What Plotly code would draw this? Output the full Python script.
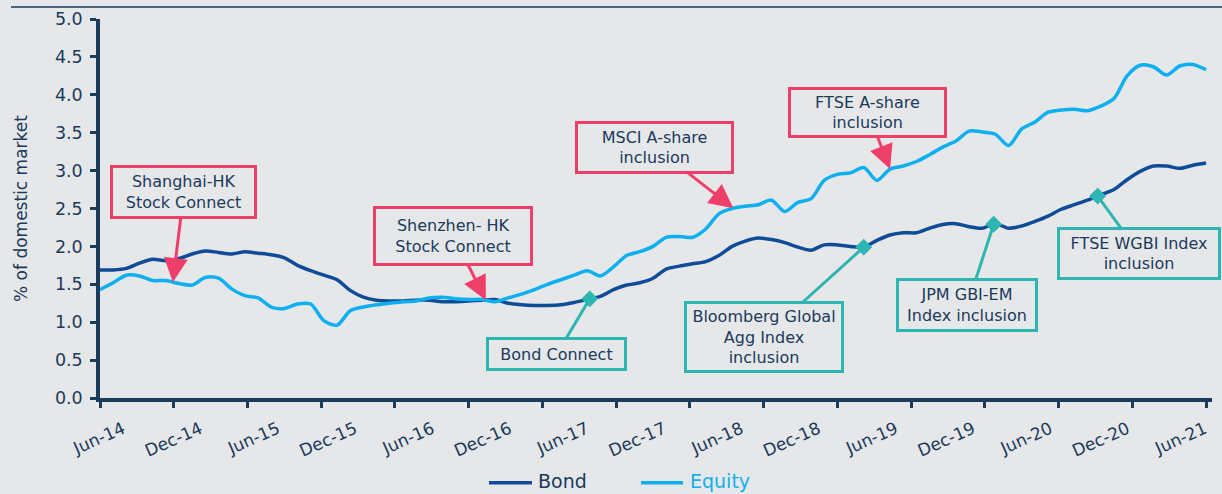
import numpy as np
import pandas as pd
import plotly.graph_objects as go

# ---------------- data ----------------
dates = pd.date_range("2014-06-01", "2021-06-01", freq="MS")

bond = [1.69, 1.69, 1.71, 1.78, 1.83, 1.81, 1.84, 1.90, 1.94, 1.92,
        1.90, 1.93, 1.91, 1.89, 1.85, 1.75, 1.68, 1.62, 1.56, 1.42,
        1.33, 1.29, 1.28, 1.28, 1.29, 1.29, 1.27, 1.27, 1.28, 1.29,
        1.30, 1.25, 1.23, 1.22, 1.22, 1.23, 1.26, 1.30, 1.34, 1.43,
        1.49, 1.52, 1.58, 1.70, 1.74, 1.77, 1.80, 1.88, 2.00, 2.07,
        2.11, 2.09, 2.05, 1.99, 1.95, 2.02, 2.02, 2.00, 1.99, 2.08,
        2.15, 2.18, 2.18, 2.24, 2.29, 2.30, 2.26, 2.24, 2.30, 2.24,
        2.27, 2.33, 2.40, 2.49, 2.55, 2.61, 2.68, 2.75, 2.88, 2.99,
        3.06, 3.06, 3.03, 3.07, 3.10]

equity = [1.43, 1.52, 1.62, 1.61, 1.55, 1.55, 1.51, 1.49, 1.59, 1.58,
          1.44, 1.35, 1.32, 1.20, 1.18, 1.24, 1.24, 1.02, 0.96, 1.15,
          1.20, 1.23, 1.25, 1.27, 1.28, 1.32, 1.33, 1.31, 1.30, 1.30,
          1.27, 1.32, 1.37, 1.43, 1.50, 1.56, 1.62, 1.68, 1.61, 1.73,
          1.88, 1.93, 2.00, 2.12, 2.13, 2.12, 2.23, 2.43, 2.50, 2.53,
          2.55, 2.61, 2.46, 2.58, 2.63, 2.87, 2.95, 2.97, 3.04, 2.87,
          3.02, 3.06, 3.12, 3.21, 3.31, 3.39, 3.52, 3.51, 3.48, 3.33,
          3.55, 3.64, 3.77, 3.80, 3.81, 3.79, 3.85, 3.95, 4.25, 4.39,
          4.37, 4.26, 4.38, 4.40, 4.33]

x_labels = ["Jun-14", "Dec-14", "Jun-15", "Dec-15", "Jun-16", "Dec-16", "Jun-17",
            "Dec-17", "Jun-18", "Dec-18", "Jun-19", "Dec-19", "Jun-20", "Dec-20", "Jun-21"]

y_ticks = [0.0, 0.5, 1.0, 1.5, 2.0, 2.5, 3.0, 3.5, 4.0, 4.5, 5.0]

series_names = ["Bond", "Equity"]

# events: text, date
equity_events = ["Shanghai-HK<br>Stock Connect", "Shenzhen- HK<br>Stock Connect",
                 "MSCI A-share<br>inclusion", "FTSE A-share<br>inclusion"]
equity_event_dates = ["2014-11-17", "2016-11-10", "2018-06-04", "2019-06-01"]

bond_events = ["Bond Connect", "Bloomberg Global<br>Agg Index<br>inclusion",
               "JPM GBI-EM<br>Index inclusion", "FTSE WGBI Index<br>inclusion"]
bond_event_dates = ["2017-07-07", "2019-04-01", "2020-01-28", "2020-09-24"]

# ---------------- styling / layout ----------------
BG = "#e6e7e9"
NAVY = "#1b3a5c"
BOND_C = "#0f4c98"
EQ_C = "#0db0ee"
PINK = "#ee3e6a"
TEAL = "#2db5b1"
FONT = "DejaVu Sans"


def to_month(d):
    d = pd.Timestamp(d)
    return (d.year - 2014) * 12 + d.month - 6 + (d.day - 1) / d.days_in_month


mo = np.array([to_month(d) for d in dates])

# label anchor positions along the axis (month units) and tick-mark positions
label_pos = list(np.linspace(1.75, 83.9, len(x_labels)))
tick_marks = list(np.linspace(0, 84, 16))

# callout box centres (data units) and inner sizes (px)
eq_boxes = [(6.37, 2.72, 137, 44), (26.84, 2.14, 150, 50),
            (42.14, 3.31, 149, 43), (58.32, 3.77, 149, 41)]
bd_boxes = [(34.70, 0.584, 131, 24), (50.46, 0.808, 150, 62),
            (65.88, 1.23, 132, 44), (78.94, 1.909, 154, 43)]

fig = go.Figure()
fig.add_trace(go.Scatter(x=mo, y=bond, mode="lines", name=series_names[0],
                         line=dict(color=BOND_C, width=3.5, shape="spline", smoothing=0.8)))
fig.add_trace(go.Scatter(x=mo, y=equity, mode="lines", name=series_names[1],
                         line=dict(color=EQ_C, width=3.5, shape="spline", smoothing=0.8)))

annotations = []
for txt, d, (bx, by, w, h) in zip(equity_events, equity_event_dates, eq_boxes):
    m = to_month(d)
    v = float(np.interp(m, mo, equity))
    annotations.append(dict(
        x=m, y=v, xref="x", yref="y", ax=bx, ay=by, axref="x", ayref="y",
        text=txt, showarrow=True, arrowhead=2, arrowsize=1.6, arrowwidth=3,
        arrowcolor=PINK, standoff=0, font=dict(family=FONT, size=16, color=NAVY),
        bordercolor=PINK, borderwidth=3, borderpad=2, bgcolor=BG,
        width=w, height=h, align="center"))

ev_x, ev_y = [], []
for txt, d, (bx, by, w, h) in zip(bond_events, bond_event_dates, bd_boxes):
    m = to_month(d)
    v = float(np.interp(m, mo, bond))
    ev_x.append(m)
    ev_y.append(v)
    annotations.append(dict(
        x=m, y=v, xref="x", yref="y", ax=bx, ay=by, axref="x", ayref="y",
        text=txt, showarrow=True, arrowhead=0, arrowwidth=3,
        arrowcolor=TEAL, standoff=0, font=dict(family=FONT, size=16, color=NAVY),
        bordercolor=TEAL, borderwidth=3, borderpad=2, bgcolor=BG,
        width=w, height=h, align="center"))

fig.add_trace(go.Scatter(x=ev_x, y=ev_y, mode="markers", showlegend=False,
                         marker=dict(symbol="diamond", size=13, color=TEAL)))

# legend drawn below the axis: sample line + label for each series
LEG_Y = -0.2235
legend_items = [(0.3498, 0.3885, 0.3925, BOND_C, NAVY),
                (0.4865, 0.5243, 0.5292, EQ_C, EQ_C)]
shapes = [dict(type="line", xref="paper", yref="paper", x0=-0.08, x1=1.01,
               y0=1.0317, y1=1.0317, line=dict(color=NAVY, width=1.5))]
for name, (x0, x1, xt, lc, tc) in zip(series_names, legend_items):
    shapes.append(dict(type="line", xref="paper", yref="paper", x0=x0, x1=x1,
                       y0=LEG_Y, y1=LEG_Y, line=dict(color=lc, width=3.5)))
    annotations.append(dict(x=xt, y=LEG_Y + 0.004, xref="paper", yref="paper",
                            xanchor="left", yanchor="middle", showarrow=False,
                            text=name, font=dict(family=FONT, size=19, color=tc)))

fig.update_layout(
    width=1222, height=494,
    margin=dict(l=100, r=10, t=19, b=96),
    paper_bgcolor=BG, plot_bgcolor=BG,
    font=dict(family=FONT, color=NAVY),
    showlegend=False,
    annotations=annotations,
    shapes=shapes,
    xaxis=dict(range=[0, 84.45], showgrid=False, zeroline=False,
               showline=True, linecolor=NAVY, linewidth=3.5,
               tickmode="array", tickvals=label_pos, ticktext=x_labels,
               ticks="", tickangle=-24, ticklabelstandoff=11,
               tickfont=dict(family=FONT, size=17, color=NAVY),
               minor=dict(tickmode="array", tickvals=tick_marks, ticks="outside",
                          ticklen=6, tickwidth=3, tickcolor=NAVY, showgrid=False)),
    yaxis=dict(range=[0, 5], showgrid=False, zeroline=False,
               showline=True, linecolor=NAVY, linewidth=3.5,
               tickmode="array", tickvals=y_ticks,
               ticktext=[f"{t:.1f}" for t in y_ticks],
               ticks="outside", ticklen=6, tickwidth=3, tickcolor=NAVY,
               ticklabelstandoff=4,
               tickfont=dict(family=FONT, size=17.5, color=NAVY),
               title=dict(text="% of domestic market", standoff=24,
                          font=dict(family=FONT, size=17, color=NAVY))),
)

fig.write_html("out.html", config={"displayModeBar": False},
               post_script="document.body.style.margin='0';document.body.style.padding='0';")
